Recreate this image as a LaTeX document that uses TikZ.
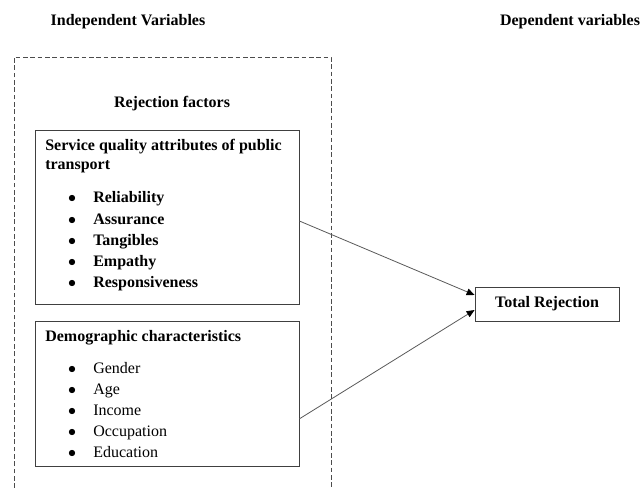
\documentclass[tikz,border=0pt]{standalone}
\usepackage{fontspec}
\setmainfont{Liberation Serif}
\usetikzlibrary{arrows.meta,fit}

\begin{document}
\begin{tikzpicture}[
					x = 0.75pt, y = -0.75pt,
					every node/.style = {font = \fontsize{12}{14}\selectfont, inner sep = 0pt},
					txt/.style = {anchor = base west},
					dot/.style = {anchor = base},
					bold/.style = {font = \fontsize{12}{14}\selectfont\bfseries},
					heading/.style = {bold, anchor = base},
					box/.style = {draw = black!75, line width = 0.6pt},
					frame/.style = {draw = black!70, line width = 0.5pt, dash pattern = on 3.5pt off 2pt},
					link/.style = {draw = black!65, line width = 0.6pt, -{Triangle[length = 6pt, width = 5pt, color = black]}}]
					\useasboundingbox (0,0) rectangle (642,488);

					\node[heading] (indep) at (128,26) {Independent Variables};
					\node[heading] (dep) at (570,26) {Dependent variables};

					\draw[frame] (14,488) -- (14,57) -- (331,57) -- (331,488);
					\node[heading] (rej) at (172,108) {Rejection factors};

					\node[box, fit = {(35,130) (299,304)}] (sq) {};
					\node[txt, bold] (sqhead) at (45,151) {Service quality attributes of public};
					\node[txt, bold] (sqhead2) at (45,170) {transport};
					\foreach \t [count = \i] in {Reliability, Assurance, Tangibles, Empathy, Responsiveness}{
						\node[dot] (sqdot-\i) at (72,{203 + 21.2*(\i - 1)}) {$\bullet$};
						\node[txt, bold] (sq-\i) at (93,{203 + 21.2*(\i - 1)}) {\t};
					}

					\node[box, fit = {(35,321) (299,466)}] (demo) {};
					\node[txt, bold] (demohead) at (45,341) {Demographic characteristics};
					\foreach \t [count = \i] in {Gender, Age, Income, Occupation, Education}{
						\node[dot] (demodot-\i) at (72,{373 + 21.2*(\i - 1)}) {$\bullet$};
						\node[txt] (demo-\i) at (93,{373 + 21.2*(\i - 1)}) {\t};
					}

					\node[box, bold, minimum width = 108pt, minimum height = 25.5pt] (total) at (547,304) {Total Rejection};

					\draw[link] ([yshift = -3pt]sq.east) -- ([yshift = 6.75pt]total.west);
					\draw[link] ([yshift = -19pt]demo.east) -- ([yshift = -4.5pt]total.west);

				\end{tikzpicture}
\end{document}
